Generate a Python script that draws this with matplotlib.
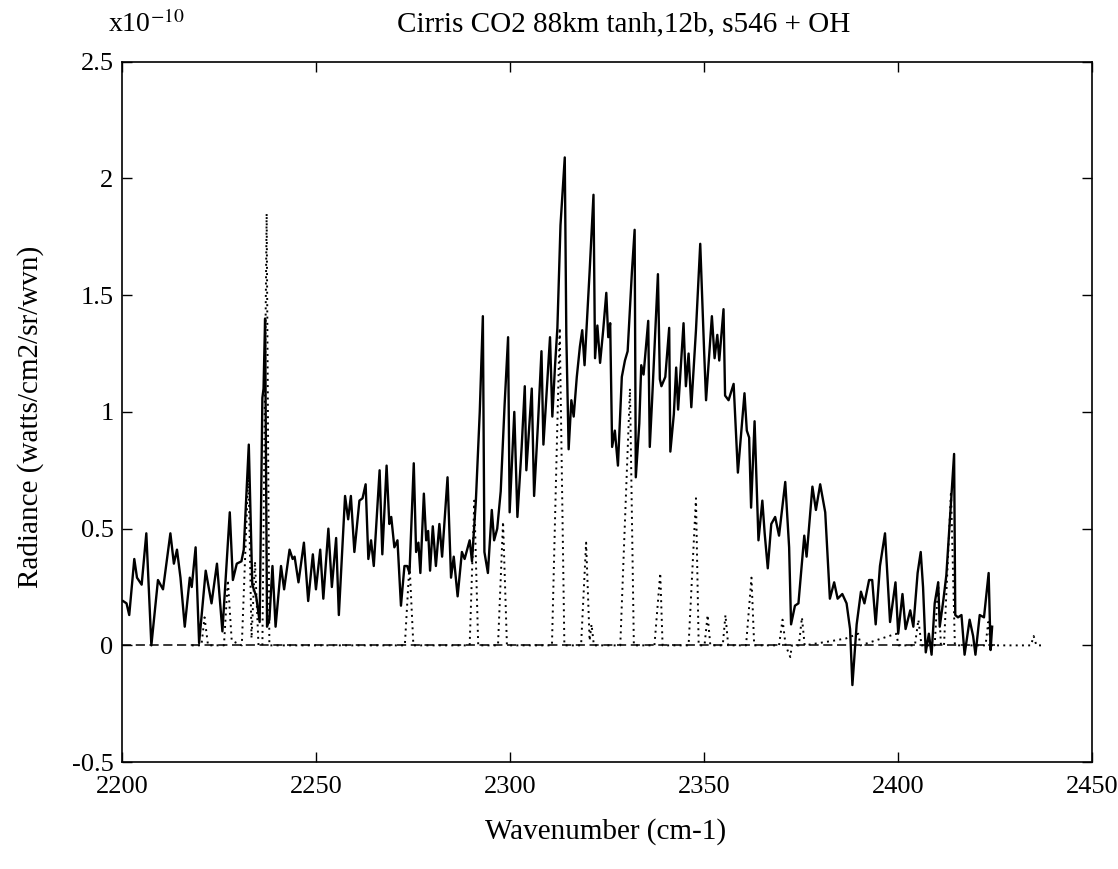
import matplotlib
matplotlib.use("Agg")
import matplotlib.pyplot as plt

plt.rcParams['font.family'] = ['Liberation Serif', 'DejaVu Serif']
plt.rcParams['mathtext.fontset'] = 'stix'
plt.rcParams['axes.unicode_minus'] = False

co2_wn = [2200.3, 2201.2, 2201.9, 2203.2, 2203.9, 2205.1, 2206.3, 2207.6, 2209.3, 2210.6,
          2212.5, 2213.4, 2214.2, 2215.1, 2216.2, 2217.5, 2218.0, 2219.0, 2219.9, 2221.6,
          2223.1, 2224.5, 2225.9, 2227.8, 2228.6, 2229.6, 2230.8, 2231.4, 2232.7, 2233.6,
          2234.6, 2235.5, 2236.2, 2236.5, 2236.9, 2237.4, 2238.0, 2238.8, 2239.6, 2241.0,
          2241.8, 2243.2, 2244.0, 2244.5, 2245.5, 2246.9, 2248.0, 2249.2, 2250.0, 2251.1,
          2251.9, 2253.2, 2254.1, 2255.2, 2255.9, 2257.5, 2258.3, 2259.0, 2259.9, 2261.2,
          2262.0, 2262.8, 2263.5, 2264.2, 2264.9, 2266.4, 2267.1, 2268.2, 2268.9, 2269.4,
          2270.2, 2271.0, 2271.9, 2272.8, 2273.5, 2274.1, 2275.2, 2275.8, 2276.4, 2276.9,
          2277.8, 2278.4, 2278.9, 2279.4, 2280.1, 2280.9, 2281.8, 2282.5, 2283.9, 2284.8,
          2285.5, 2286.5, 2287.6, 2288.3, 2289.6, 2290.2, 2291.2, 2292.2, 2293.0, 2293.4,
          2294.3, 2295.3, 2295.9, 2296.7, 2297.6, 2298.6, 2299.5, 2299.9, 2301.1, 2301.9,
          2303.0, 2303.8, 2304.2, 2305.0, 2305.6, 2306.2, 2307.2, 2308.1, 2308.6, 2309.5,
          2310.3, 2310.9, 2311.6, 2312.2, 2313.0, 2314.1, 2314.5, 2315.1, 2315.8, 2316.4,
          2317.2, 2318.0, 2318.6, 2319.2, 2320.5, 2321.5, 2321.9, 2322.5, 2323.2, 2324.0,
          2324.8, 2325.3, 2325.8, 2326.3, 2327.0, 2327.8, 2328.8, 2329.6, 2330.3, 2331.4,
          2332.1, 2332.4, 2333.3, 2333.8, 2334.4, 2335.6, 2336.0, 2336.6, 2338.1, 2338.6,
          2339.0, 2340.0, 2341.0, 2341.3, 2342.2, 2342.8, 2343.3, 2344.7, 2345.3, 2346.0,
          2346.7, 2347.9, 2349.0, 2350.0, 2350.5, 2352.0, 2352.7, 2353.4, 2353.9, 2355.0,
          2355.4, 2356.3, 2357.6, 2358.7, 2360.4, 2361.0, 2361.6, 2362.1, 2363.0, 2364.0,
          2365.0, 2365.6, 2366.4, 2367.3, 2368.3, 2369.3, 2370.9, 2371.9, 2372.4, 2373.4,
          2374.3, 2375.8, 2376.4, 2377.9, 2378.8, 2379.9, 2381.2, 2382.4, 2383.5, 2384.4,
          2385.6, 2386.7, 2387.6, 2388.2, 2389.3, 2390.4, 2391.3, 2392.5, 2393.3, 2394.2,
          2395.3, 2396.6, 2397.9, 2399.3, 2400.0, 2401.1, 2401.9, 2403.1, 2403.9, 2405.0,
          2405.8, 2406.4, 2407.1, 2407.9, 2408.6, 2409.4, 2410.3, 2410.7, 2411.6, 2412.4,
          2413.7, 2414.4, 2414.7, 2415.4, 2416.3, 2417.1, 2418.4, 2419.3, 2419.9, 2421.0,
          2422.1, 2423.3, 2423.8, 2424.2]
co2_rad = [0.19, 0.18, 0.13, 0.37, 0.29, 0.26, 0.48, 0.00, 0.28, 0.24,
           0.48, 0.35, 0.41, 0.29, 0.08, 0.29, 0.25, 0.42, 0.01, 0.32,
           0.18, 0.35, 0.06, 0.57, 0.28, 0.35, 0.36, 0.41, 0.86, 0.26,
           0.21, 0.10, 1.06, 1.10, 1.40, 0.08, 0.11, 0.34, 0.08, 0.34,
           0.24, 0.41, 0.37, 0.38, 0.27, 0.44, 0.19, 0.39, 0.24, 0.41,
           0.20, 0.50, 0.25, 0.46, 0.13, 0.64, 0.54, 0.64, 0.40, 0.62,
           0.63, 0.69, 0.37, 0.45, 0.34, 0.75, 0.39, 0.77, 0.52, 0.55,
           0.42, 0.45, 0.17, 0.34, 0.34, 0.31, 0.78, 0.40, 0.44, 0.31,
           0.65, 0.45, 0.49, 0.32, 0.51, 0.34, 0.52, 0.38, 0.72, 0.29,
           0.38, 0.21, 0.40, 0.37, 0.45, 0.36, 0.62, 1.00, 1.41, 0.40,
           0.31, 0.58, 0.45, 0.50, 0.66, 1.03, 1.32, 0.57, 1.00, 0.55,
           0.85, 1.11, 0.75, 0.95, 1.10, 0.64, 0.95, 1.26, 0.86, 1.10,
           1.32, 0.98, 1.20, 1.36, 1.80, 2.09, 1.33, 0.84, 1.05, 0.98,
           1.15, 1.28, 1.35, 1.20, 1.60, 1.93, 1.23, 1.37, 1.21, 1.35,
           1.51, 1.32, 1.38, 0.85, 0.92, 0.77, 1.15, 1.22, 1.26, 1.60,
           1.78, 0.72, 0.95, 1.20, 1.16, 1.39, 0.85, 1.05, 1.59, 1.14,
           1.11, 1.15, 1.36, 0.83, 0.99, 1.19, 1.01, 1.38, 1.11, 1.25,
           1.02, 1.35, 1.72, 1.26, 1.05, 1.41, 1.23, 1.33, 1.22, 1.44,
           1.07, 1.05, 1.12, 0.74, 1.08, 0.92, 0.89, 0.59, 0.96, 0.45,
           0.62, 0.48, 0.33, 0.52, 0.55, 0.47, 0.70, 0.42, 0.09, 0.17,
           0.18, 0.47, 0.38, 0.68, 0.58, 0.69, 0.57, 0.20, 0.27, 0.20,
           0.22, 0.18, 0.07, -0.17, 0.09, 0.23, 0.18, 0.28, 0.28, 0.09,
           0.34, 0.48, 0.10, 0.27, 0.05, 0.22, 0.07, 0.15, 0.08, 0.31,
           0.40, 0.25, -0.03, 0.05, -0.04, 0.18, 0.27, 0.08, 0.19, 0.30,
           0.64, 0.82, 0.13, 0.12, 0.13, -0.04, 0.11, 0.04, -0.04, 0.13,
           0.12, 0.31, -0.02, 0.08]

# model spectrum (dotted line)
oh_wn = [2218.0, 2220.5, 2221.3, 2222.2, 2226.3, 2227.3, 2228.3, 2230.9, 2232.6, 2233.4,
         2234.3, 2235.2, 2236.2, 2237.3, 2238.0, 2272.9, 2274.1, 2275.1, 2289.6, 2290.8,
         2291.8, 2296.9, 2298.2, 2299.2, 2310.8, 2312.8, 2314.0, 2318.3, 2319.6, 2320.5,
         2321.0, 2321.6, 2328.4, 2330.9, 2331.9, 2337.2, 2338.7, 2339.3, 2346.0, 2347.9,
         2348.6, 2350.1, 2350.9, 2351.6, 2354.8, 2355.5, 2356.2, 2360.8, 2362.2, 2362.9,
         2369.3, 2370.2, 2371.0, 2372.2, 2372.6, 2374.4, 2375.2, 2375.9, 2383.3, 2386.6,
         2389.7, 2390.3, 2399.5, 2400.1, 2404.3, 2405.2, 2406.0, 2409.4, 2410.3, 2411.0,
         2411.8, 2413.6, 2414.6, 2422.5, 2423.2, 2423.8, 2434.2, 2434.9, 2435.6, 2437.8]
oh_rad = [0.0, 0.0, 0.12, 0.0, 0.0, 0.28, 0.02, 0.0, 0.75, 0.03,
          0.36, 0.0, 0.0, 1.85, 0.0, 0.0, 0.35, 0.0, 0.0, 0.62,
          0.0, 0.0, 0.53, 0.0, 0.0, 1.36, 0.0, 0.0, 0.44, 0.02,
          0.09, 0.0, 0.0, 1.10, 0.0, 0.0, 0.31, 0.0, 0.0, 0.63,
          0.0, 0.0, 0.13, 0.0, 0.0, 0.13, 0.0, 0.0, 0.29, 0.0,
          0.0, 0.11, 0.0, -0.05, 0.0, 0.0, 0.12, 0.0, 0.02, 0.03,
          0.05, 0.0, 0.05, 0.0, 0.0, 0.11, 0.0, 0.0, 0.27, 0.0,
          0.0, 0.66, 0.0, 0.0, 0.10, 0.0, 0.0, 0.04, 0.0, 0.0]

zero_wn = [2200, 2425]
zero_rad = [0, 0]

x_ticks = [2200, 2250, 2300, 2350, 2400, 2450]
y_ticks = [-0.5, 0, 0.5, 1, 1.5, 2, 2.5]

fig = plt.figure(figsize=(11.18, 8.69), dpi=100)
ax = fig.add_axes([0.109, 0.123, 0.868, 0.806])

ax.plot(zero_wn, zero_rad, color='black', lw=1.1, linestyle=(0, (6, 3)))
ax.plot(oh_wn, oh_rad, color='black', lw=1.4, linestyle=(0, (1, 2.2)))
ax.plot(co2_wn, co2_rad, color='black', lw=1.7)

ax.set_xlim(2200, 2450)
ax.set_ylim(-0.5, 2.5)
ax.set_xticks(x_ticks)
ax.set_yticks(y_ticks)
ax.set_yticklabels(['%g' % v for v in y_ticks])
ax.tick_params(direction='in', length=7, width=1, top=True, right=True, labelsize=19)
ax.tick_params(axis='x', pad=10)
ax.tick_params(axis='y', pad=6)
for s in ax.spines.values():
    s.set_linewidth(1.2)

fig.text(0.558, 0.972, 'Cirris CO2 88km tanh,12b, s546 + OH', ha='center', va='center', fontsize=21)
fig.text(0.097, 0.972, r'x10$^{\mathrm{-10}}$', ha='left', va='center', fontsize=20)
fig.text(0.542, 0.043, 'Wavenumber (cm-1)', ha='center', va='center', fontsize=21)
fig.text(0.027, 0.52, 'Radiance (watts/cm2/sr/wvn)', ha='center', va='center',
         rotation=90, fontsize=21)

fig.savefig('out.png', dpi=100)
